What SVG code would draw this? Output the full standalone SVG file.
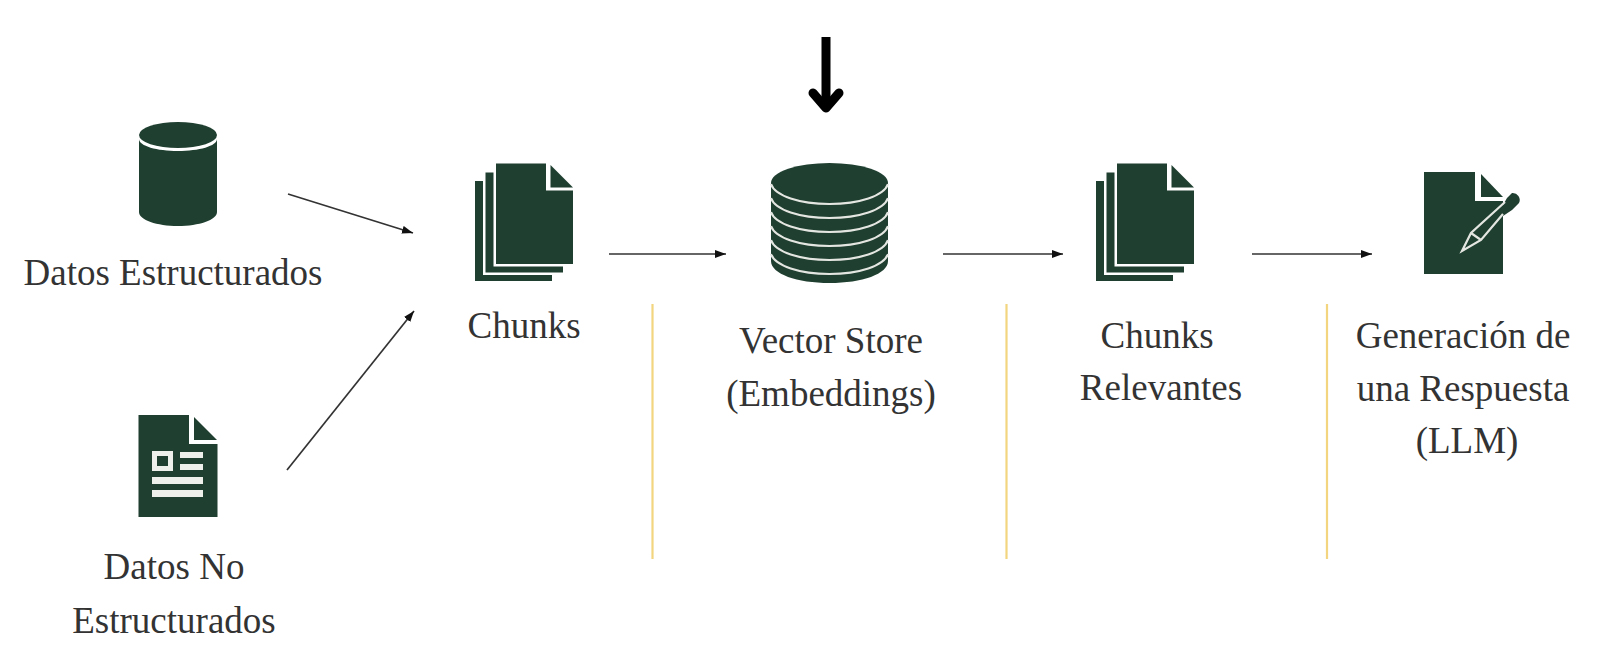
<svg xmlns="http://www.w3.org/2000/svg" width="1609" height="661" viewBox="0 0 1609 661">
<style>
.i{fill:#1f3f30}
.p{fill:#1f3f30;stroke:#fff;stroke-width:5;paint-order:stroke}
.w{fill:none;stroke:#e4e6e2;stroke-width:2.2}
.c{fill:none;stroke:#333;stroke-width:1.7;marker-end:url(#a)}
.y{stroke:#f2d57e;stroke-width:2.2}
text{font-family:"Liberation Serif",serif;font-size:37px;fill:#333;text-anchor:middle}
</style>
<defs>
<marker id="a" markerUnits="userSpaceOnUse" markerWidth="12" markerHeight="10" refX="11" refY="4" orient="auto"><path d="M0 0L11 4L0 8z" fill="#111"/></marker>
<g id="pages">
<rect class="i" x="475" y="181" width="77" height="100"/>
<rect class="p" x="485.500" y="172.500" width="77.500" height="100"/>
<rect x="540" y="160" width="36" height="32" fill="#fff"/>
<path class="p" d="M496 163.500H546V190.500H573V264H496z"/>
<path class="i" d="M550.500 165L573 187.500H550.500z"/>
</g>
</defs>
<g id="connectors">
<line class="c" x1="288" y1="194" x2="413" y2="233"/>
<line class="c" x1="287" y1="470" x2="414" y2="311"/>
<line class="c" x1="609" y1="254" x2="726" y2="254"/>
<line class="c" x1="943" y1="254" x2="1063" y2="254"/>
<line class="c" x1="1252" y1="254" x2="1372" y2="254"/>
<path d="M826 37V108" fill="none" stroke="#000" stroke-width="9"/>
<path d="M813 93L826 108L839 93" fill="none" stroke="#000" stroke-width="9" stroke-linecap="round" stroke-linejoin="round"/>
<line class="y" x1="652.500" y1="304" x2="652.500" y2="559"/>
<line class="y" x1="1006.500" y1="304" x2="1006.500" y2="559"/>
<line class="y" x1="1327" y1="304" x2="1327" y2="559"/>
</g>
<g id="datos-estructurados">
<path class="i" d="M139 139V212C139 220 157 226 178 226S217 220 217 212V139C217 146 199 151 178 151S139 146 139 139z"/>
<ellipse class="i" cx="178" cy="135" rx="39" ry="13"/>
<text x="173" y="285">Datos Estructurados</text>
</g>
<g id="datos-no-estructurados">
<path class="i" d="M138.500 415H189V444H217.500V517H138.500z"/>
<path class="i" d="M194 417L217 440H194z"/>
<g fill="#eef0ec"><path d="M152 451H173V471H152zM157 456V466H168V456z" fill-rule="evenodd"/><rect x="180" y="452" width="23" height="6"/><rect x="180" y="464" width="23" height="6"/><rect x="152" y="477" width="51" height="7"/><rect x="152" y="490" width="51" height="7"/></g>
<text x="174" y="579">Datos No</text>
<text x="174" y="633">Estructurados</text>
</g>
<g id="chunks">
<use href="#pages"/>
<text x="524" y="338">Chunks</text>
</g>
<g id="vector-store">
<path class="i" d="M771 183V261C771 274 797 283 829.500 283S888 274 888 261V183z"/>
<ellipse class="i" cx="829.500" cy="183" rx="58.500" ry="20"/>
<path class="w" d="M771 184C775 196 800 204 829.500 204S884 196 888 184M771 198C775 210 800 218 829.500 218S884 210 888 198M771 212C775 224 800 232 829.500 232S884 224 888 212M771 226C775 238 800 246 829.500 246S884 238 888 226M771 240C775 252 800 260 829.500 260S884 252 888 240M771 254C775 266 800 274 829.500 274S884 266 888 254"/>
<text x="831" y="353">Vector Store</text>
<text x="831" y="406">(Embeddings)</text>
</g>
<g id="chunks-relevantes">
<use href="#pages" x="621"/>
<text x="1157" y="348">Chunks</text>
<text x="1161" y="400">Relevantes</text>
</g>
<g id="respuesta">
<path class="i" d="M1424 172H1475V201H1503V274H1424z"/>
<path class="i" d="M1481 174L1503 197H1481z"/>
<path class="i" d="M1503 205L1507 198L1512 193A7 7 0 0 1 1519 203L1512 210L1503 216z"/>
<path class="w" d="M1505 202L1471 233L1462 251L1481 240L1503 214M1471 233L1481 240"/>
<text x="1463" y="348">Generación de</text>
<text x="1463" y="401">una Respuesta</text>
<text x="1467" y="453">(LLM)</text>
</g>
</svg>
